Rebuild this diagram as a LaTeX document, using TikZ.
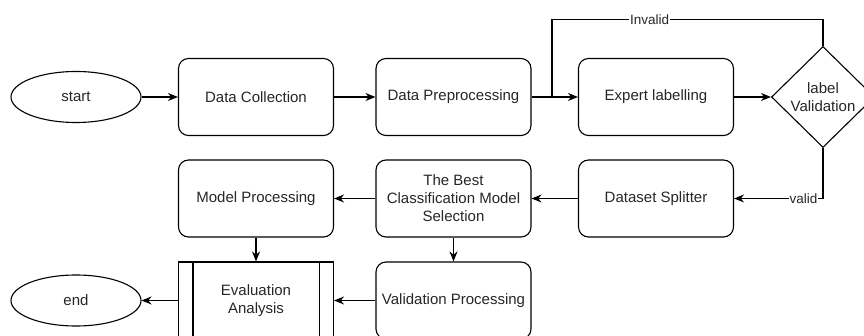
\documentclass[tikz,border=0pt]{standalone}
\usepackage{fontspec}
\setmainfont{Liberation Sans}
\usetikzlibrary{arrows.meta, positioning, shapes.geometric}

\begin{document}
\begin{tikzpicture}[
  x=1pt, y=-1pt,
  every node/.style={font=\fontsize{15}{18}\selectfont, text=black!85},
  process/.style={rectangle, rounded corners=10pt, draw, line width=1.1pt, minimum width=155pt, minimum height=77pt, align=center, inner sep=2pt},
  terminal/.style={ellipse, draw, line width=1.1pt, minimum width=130pt, minimum height=51pt, inner sep=0pt},
  decision/.style={diamond, draw, line width=1.1pt, minimum width=103pt, minimum height=101pt, inner sep=0pt, align=center},
  subproc/.style={rectangle, draw, line width=1.1pt, minimum width=155pt, minimum height=77pt, align=center},
  flow/.style={-{Stealth[length=10pt, width=8pt]}, line width=1.1pt},
  link/.style={line width=1.1pt},
  branch/.style={font=\fontsize{13.5}{16}\selectfont, fill=white, inner sep=1pt},
]
\useasboundingbox (0,0) rectangle (864,336);

% top row
\node[terminal] (start) at (76,97) {start};
\node[process] (collect) at (256,97) {Data Collection};
\node[process] (prep) at (453.5,97) {Data Preprocessing};
\node[process] (expert) at (656,97) {Expert labelling};
\node[decision] (lval) at (823,97) {label\\Validation};

% middle row
\node[process] (split) at (656,198.5) {Dataset Splitter};
\node[process] (best) at (453.5,198.5) {The Best\\Classification Model\\Selection};
\node[process] (model) at (256,198.5) {Model Processing};

% bottom row
\node[process] (valproc) at (453.5,300.5) {Validation Processing};
\node[subproc] (eval) at (256,300.5) {Evaluation\\Analysis};
\draw[link] ([xshift=15pt]eval.north west) -- ([xshift=15pt]eval.south west);
\draw[link] ([xshift=-15pt]eval.north east) -- ([xshift=-15pt]eval.south east);
\node[terminal] (finish) at (76,300.5) {end};

\coordinate (fork) at (552,97);
\coordinate (loop) at (552,19.5);

\draw[flow] (start) -- (collect);
\draw[flow] (collect) -- (prep);
\draw[flow] (prep) -- (expert);
\draw[flow] (expert) -- (lval);
\draw[link] (lval.north) |- (loop) node[branch, pos=0.82] {Invalid} -- (fork);
\draw[flow] (lval.south) |- (split.east) node[branch, pos=0.61] {valid};
\draw[flow] (split) -- (best);
\draw[flow] (best) -- (model);
\draw[flow] (model) -- (eval);
\draw[flow] (best) -- (valproc);
\draw[flow] (valproc) -- (eval);
\draw[flow] (eval) -- (finish);
\end{tikzpicture}
\end{document}
